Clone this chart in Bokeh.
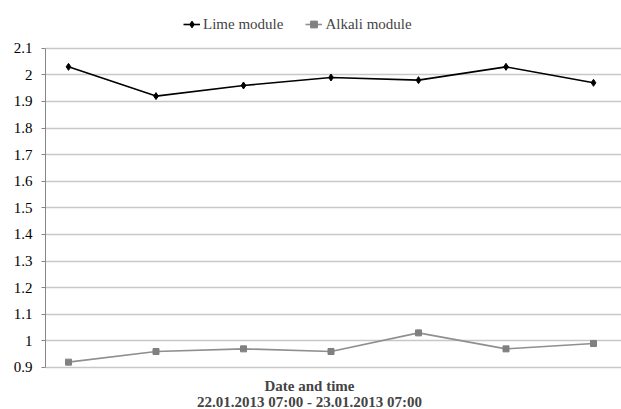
from bokeh.plotting import figure
from bokeh.models import (Range1d, FixedTicker, NumeralTickFormatter, Legend, LegendItem, Label)
from bokeh.embed import file_html
from bokeh.resources import INLINE

# ---- data ----
x_index = [0, 1, 2, 3, 4, 5, 6]
lime_module = [2.03, 1.92, 1.96, 1.99, 1.98, 2.03, 1.97]
alkali_module = [0.92, 0.96, 0.97, 0.96, 1.03, 0.97, 0.99]
y_ticks = [0.9, 1.0, 1.1, 1.2, 1.3, 1.4, 1.5, 1.6, 1.7, 1.8, 1.9, 2.0, 2.1]
series_names = ["Lime module", "Alkali module"]
x_title_lines = ["Date and time", "22.01.2013 07:00 - 23.01.2013 07:00"]

FONT = "Liberation Serif"

p = figure(width=621, height=409, output_backend="svg", toolbar_location=None,
           x_range=Range1d(-0.263, 6.32), y_range=Range1d(0.742, 2.2794),
           min_border_left=45, min_border_right=0, min_border_top=0, min_border_bottom=0)
p.outline_line_color = None
p.background_fill_color = "white"
p.border_fill_color = "white"

p.xaxis.visible = False
p.xgrid.visible = False

yax = p.yaxis[0]
yax.ticker = FixedTicker(ticks=y_ticks)
yax.bounds = (0.9, 2.1)
yax.formatter = NumeralTickFormatter(format="0.[0]")
yax.axis_line_color = "#868686"
yax.major_tick_line_color = "#868686"
yax.major_tick_out = 4
yax.major_tick_in = 0
yax.minor_tick_line_color = None
yax.major_label_standoff = 9
yax.major_label_text_font = FONT
yax.major_label_text_font_size = "15px"
yax.major_label_text_color = "black"

p.ygrid.ticker = FixedTicker(ticks=y_ticks)
p.ygrid.grid_line_color = "#c8c8c8"
p.ygrid.grid_line_width = 1.3

l1 = p.line(x_index, lime_module, line_color="black", line_width=1.6)
m1 = p.scatter(x_index, lime_module, marker="diamond", size=7, fill_color="black", line_color="black")
l2 = p.line(x_index, alkali_module, line_color="#8f8f8f", line_width=1.6)
m2 = p.scatter(x_index, alkali_module, marker="square", size=6, fill_color="#808080", line_color="#808080")

legend = Legend(items=[LegendItem(label=series_names[0], renderers=[l1, m1]),
                       LegendItem(label=series_names[1], renderers=[l2, m2])],
                orientation="horizontal", location=(138, 376),
                border_line_color=None, background_fill_alpha=0,
                label_text_font=FONT, label_text_font_size="15px",
                glyph_width=17, glyph_height=18, label_height=18,
                label_standoff=3, spacing=22, padding=0, margin=0)
p.add_layout(legend, "center")

p.add_layout(Label(x=264, y=24, x_units="screen", y_units="screen", text=x_title_lines[0],
                   text_font=FONT, text_font_size="15px", text_font_style="bold",
                   text_align="center", text_baseline="middle"))
p.add_layout(Label(x=264, y=8, x_units="screen", y_units="screen", text=x_title_lines[1],
                   text_font=FONT, text_font_size="15px", text_font_style="bold",
                   text_align="center", text_baseline="middle"))

open("out.html", "w").write(file_html(p, INLINE))
